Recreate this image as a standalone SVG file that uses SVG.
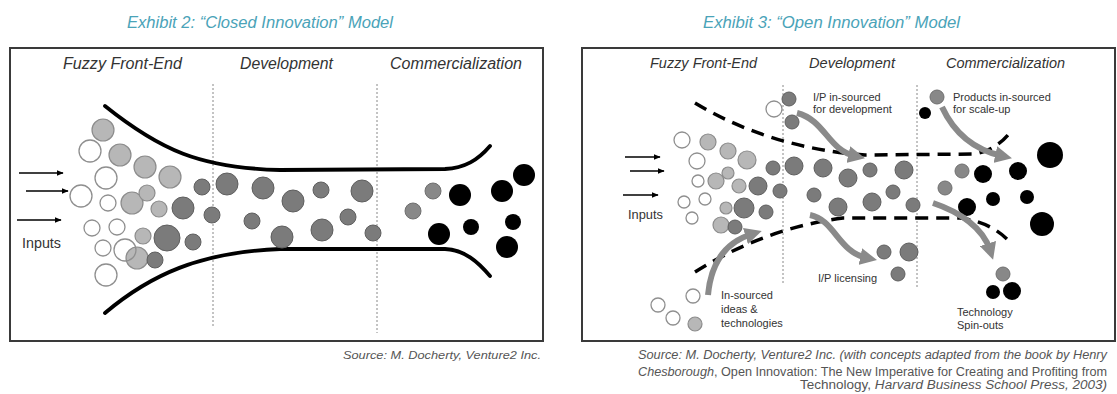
<svg xmlns="http://www.w3.org/2000/svg" width="1117" height="394" viewBox="0 0 1117 394">
<style>
.title{font-family:"Liberation Sans",Arial,sans-serif;font-style:italic;font-size:16px;fill:#4aa3b8}
.hdr{font-family:"Liberation Sans",Arial,sans-serif;font-style:italic;fill:#333}
.lbl{font-family:"Liberation Sans",Arial,sans-serif;font-size:11px;fill:#333}
.src{font-family:"Liberation Sans",Arial,sans-serif;font-size:12.5px;fill:#555}
.it{font-style:italic}
.box{fill:#fff;stroke:#3a3a3a;stroke-width:2}
.vdash{stroke:#888;stroke-width:1;stroke-dasharray:2 2;fill:none}
.wall{fill:none;stroke:#000;stroke-width:3.8;stroke-linecap:round}
.dwall{fill:none;stroke:#000;stroke-width:3.5;stroke-dasharray:13 8}
.open{fill:#fff;stroke:#8f8f8f;stroke-width:1.3}
.lg{fill:#b7b7b7;stroke:#8c8c8c;stroke-width:1.2}
.dg{fill:#7b7b7b;stroke:#5f5f5f;stroke-width:1}
.gr{fill:#888;stroke:#6f6f6f;stroke-width:1}
.bk{fill:#000}
.inarrow{stroke:#000;stroke-width:1.5;fill:none}
.garrow{stroke:#8a8a8a;stroke-width:6;fill:none}
</style>
<defs>
<marker id="ah" viewBox="0 0 10 10" refX="9" refY="5" markerWidth="7" markerHeight="7" markerUnits="userSpaceOnUse" orient="auto"><path d="M0,1 L10,5 L0,9 Z" fill="#000"/></marker>
<marker id="gh" viewBox="0 0 10 10" refX="4" refY="5" markerWidth="17" markerHeight="17" markerUnits="userSpaceOnUse" orient="auto"><path d="M0,0 L10,5 L0,10 Z" fill="#8a8a8a"/></marker>
</defs>
<rect width="1117" height="394" fill="#fff"/>

<g id="titles">
<text class="title" x="127" y="28" textLength="266" lengthAdjust="spacingAndGlyphs">Exhibit 2: “Closed Innovation” Model</text>
<text class="title" x="703" y="28" textLength="257" lengthAdjust="spacingAndGlyphs">Exhibit 3: “Open Innovation” Model</text>
</g>

<g id="closed-panel">
<rect class="box" x="10" y="48" width="533" height="293"/>
<text class="hdr" x="63" y="69" font-size="16" textLength="119" lengthAdjust="spacingAndGlyphs">Fuzzy Front-End</text>
<text class="hdr" x="240" y="69" font-size="16" textLength="93" lengthAdjust="spacingAndGlyphs">Development</text>
<text class="hdr" x="390" y="69" font-size="16" textLength="132" lengthAdjust="spacingAndGlyphs">Commercialization</text>
<line class="vdash" x1="213" y1="84" x2="213" y2="328"/>
<line class="vdash" x1="377" y1="84" x2="377" y2="333"/>
<path class="wall" d="M105,106 C160,150 200,168 280,170 L445,169 C465,168 478,160 490,146"/>
<path class="wall" d="M105,313 C150,275 200,252 280,249 L445,249 C465,250 478,262 490,276"/>
<text class="lbl" x="22" y="248" style="font-size:14px" textLength="39" lengthAdjust="spacingAndGlyphs">Inputs</text>
<g id="closed-ideas">
<circle class="open" cx="90" cy="151" r="11"/><circle class="open" cx="106" cy="178" r="11"/><circle class="open" cx="81" cy="196" r="11"/><circle class="open" cx="108" cy="203" r="8"/><circle class="open" cx="92" cy="228" r="8"/><circle class="open" cx="117" cy="227" r="8"/><circle class="open" cx="103" cy="248" r="8"/><circle class="open" cx="106" cy="275" r="11"/>
<circle class="lg" cx="103" cy="130" r="11"/><circle class="lg" cx="120" cy="155" r="11"/><circle class="lg" cx="145" cy="167" r="11"/><circle class="lg" cx="170" cy="177" r="11"/><circle class="lg" cx="132" cy="203" r="11"/><circle class="lg" cx="147" cy="193" r="8"/><circle class="lg" cx="159" cy="209" r="8"/><circle class="lg" cx="143" cy="236" r="8"/><circle class="lg" cx="137" cy="258" r="11"/>
<circle class="open" cx="125" cy="250" r="11" fill-opacity="0"/>
</g>
<g id="closed-dev">
<circle class="dg" cx="183" cy="208" r="11"/><circle class="dg" cx="202" cy="187" r="8"/><circle class="dg" cx="212" cy="215" r="8"/><circle class="dg" cx="227" cy="184" r="11"/><circle class="dg" cx="167" cy="238" r="13"/><circle class="dg" cx="193" cy="242" r="8"/><circle class="dg" cx="155" cy="260" r="8" fill="#6a6a6a"/>
<circle class="dg" cx="263" cy="188" r="11"/><circle class="dg" cx="252" cy="221" r="8"/><circle class="dg" cx="282" cy="237" r="11"/><circle class="dg" cx="293" cy="201" r="11"/><circle class="dg" cx="321" cy="190" r="8"/><circle class="dg" cx="362" cy="191" r="11"/><circle class="dg" cx="348" cy="217" r="8"/><circle class="dg" cx="322" cy="230" r="11"/><circle class="dg" cx="373" cy="233" r="8"/>
</g>
<g id="closed-products">
<circle class="gr" cx="433" cy="191" r="8"/><circle class="gr" cx="413" cy="211" r="8"/>
<circle class="bk" cx="460" cy="195" r="11"/><circle class="bk" cx="439" cy="234" r="11"/><circle class="bk" cx="471" cy="227" r="8"/><circle class="bk" cx="502" cy="191" r="11"/><circle class="bk" cx="524" cy="175" r="11"/><circle class="bk" cx="513" cy="222" r="8"/><circle class="bk" cx="507" cy="247" r="11"/>
</g>
</g>

<g id="open-panel">
<rect class="box" x="582" y="48" width="533" height="293"/>
<text class="hdr" x="650" y="68" font-size="14" textLength="107" lengthAdjust="spacingAndGlyphs">Fuzzy Front-End</text>
<text class="hdr" x="809" y="68" font-size="14" textLength="86" lengthAdjust="spacingAndGlyphs">Development</text>
<text class="hdr" x="946" y="68" font-size="14" textLength="119" lengthAdjust="spacingAndGlyphs">Commercialization</text>
<line class="vdash" x1="783" y1="85" x2="783" y2="283"/>
<line class="vdash" x1="917" y1="85" x2="917" y2="287"/>
<path class="dwall" d="M695,103 Q770,148 865,155 L975,154 Q995,150 1008,135"/>
<path class="dwall" d="M695,272 Q765,228 843,218 L960,218 Q990,222 1008,240"/>
<text class="lbl" x="628" y="219" style="font-size:12.5px" textLength="35" lengthAdjust="spacingAndGlyphs">Inputs</text>
<text class="lbl" x="721" y="299">In-sourced</text>
<text class="lbl" x="721" y="313">ideas &amp;</text>
<text class="lbl" x="721" y="327">technologies</text>
<text class="lbl" x="813" y="101">I/P in-sourced</text>
<text class="lbl" x="813" y="113">for development</text>
<text class="lbl" x="818" y="282">I/P licensing</text>
<text class="lbl" x="953" y="101">Products in-sourced</text>
<text class="lbl" x="953" y="113">for scale-up</text>
<text class="lbl" x="957" y="316">Technology</text>
<text class="lbl" x="957" y="329">Spin-outs</text>
<g id="open-ideas">
<circle class="open" cx="682" cy="140" r="8"/><circle class="open" cx="697" cy="161" r="8"/><circle class="open" cx="698" cy="181" r="6"/><circle class="open" cx="684" cy="202" r="6"/><circle class="open" cx="705" cy="199" r="6"/><circle class="open" cx="692" cy="218" r="6"/><circle class="open" cx="774" cy="109" r="8"/>
<circle class="lg" cx="708" cy="142" r="8"/><circle class="lg" cx="728" cy="151" r="8"/><circle class="lg" cx="747" cy="160" r="9"/><circle class="lg" cx="716" cy="181" r="8"/><circle class="lg" cx="728" cy="173" r="6"/><circle class="lg" cx="739" cy="186" r="7"/><circle class="lg" cx="726" cy="208" r="6"/><circle class="lg" cx="721" cy="225" r="8"/>
</g>
<g id="open-external-ideas">
<circle class="open" cx="693" cy="296" r="7"/><circle class="open" cx="658" cy="305" r="7"/><circle class="open" cx="673" cy="318" r="7"/><circle class="lg" cx="695" cy="324" r="7"/>
</g>
<g id="open-dev">
<circle class="dg" cx="758" cy="186" r="9"/><circle class="dg" cx="744" cy="208" r="10"/><circle class="dg" cx="766" cy="212" r="7"/><circle class="dg" cx="735" cy="227" r="7"/><circle class="dg" cx="773" cy="168" r="7"/><circle class="dg" cx="794" cy="166" r="9"/><circle class="dg" cx="823" cy="168" r="9"/><circle class="dg" cx="848" cy="178" r="9"/><circle class="dg" cx="870" cy="170" r="7"/><circle class="dg" cx="904" cy="170" r="9"/><circle class="dg" cx="780" cy="191" r="7"/><circle class="dg" cx="814" cy="195" r="7"/><circle class="dg" cx="838" cy="207" r="9"/><circle class="dg" cx="872" cy="202" r="9"/><circle class="dg" cx="893" cy="192" r="7"/><circle class="dg" cx="913" cy="205" r="7"/>
</g>
<g id="open-insourced-ip"><circle class="dg" cx="789" cy="99" r="7"/><circle class="dg" cx="792" cy="122" r="7"/></g>
<g id="open-licensing"><circle class="dg" cx="884" cy="252" r="7"/><circle class="dg" cx="909" cy="252" r="9"/><circle class="dg" cx="898" cy="274" r="7"/></g>
<g id="open-insourced-products"><circle class="gr" cx="937" cy="97" r="7"/><circle class="bk" cx="925" cy="113" r="6"/></g>
<g id="open-products">
<circle class="gr" cx="962" cy="171" r="7"/><circle class="gr" cx="945" cy="188" r="7"/>
<circle class="bk" cx="1050" cy="155" r="13"/><circle class="bk" cx="983" cy="174" r="9"/><circle class="bk" cx="1018" cy="171" r="9"/><circle class="bk" cx="967" cy="207" r="9"/><circle class="bk" cx="993" cy="199" r="7"/><circle class="bk" cx="1027" cy="197" r="7"/><circle class="bk" cx="1042" cy="224" r="12"/>
</g>
<g id="open-spinouts"><circle class="gr" cx="1003" cy="274" r="7"/><circle class="bk" cx="993" cy="292" r="7"/><circle class="bk" cx="1012" cy="291" r="9"/></g>
</g>

<g id="connectors">
<line class="inarrow" x1="19" y1="173" x2="63" y2="173" marker-end="url(#ah)"/>
<line class="inarrow" x1="26" y1="191" x2="68" y2="191" marker-end="url(#ah)"/>
<line class="inarrow" x1="17" y1="220" x2="61" y2="220" marker-end="url(#ah)"/>
<line class="inarrow" x1="625" y1="157" x2="660" y2="157" marker-end="url(#ah)"/>
<line class="inarrow" x1="630" y1="171" x2="664" y2="171" marker-end="url(#ah)"/>
<line class="inarrow" x1="623" y1="195" x2="658" y2="195" marker-end="url(#ah)"/>
<path class="garrow" d="M708,295 C711,262 726,242 752,234" marker-end="url(#gh)"/>
<path class="garrow" d="M797,113 C825,120 828,150 855,156" marker-end="url(#gh)"/>
<path class="garrow" d="M810,215 C835,220 838,252 867,258" marker-end="url(#gh)"/>
<path class="garrow" d="M942,107 C955,135 975,150 1002,156" marker-end="url(#gh)"/>
<path class="garrow" d="M933,203 C960,212 983,228 990,250" marker-end="url(#gh)"/>
</g>

<g id="sources">
<text class="src it" x="541" y="359" style="font-size:11px" textLength="198" lengthAdjust="spacingAndGlyphs" text-anchor="end">Source: M. Docherty, Venture2 Inc.</text>
<text class="src it" x="1107" y="359" text-anchor="end" textLength="469" lengthAdjust="spacingAndGlyphs">Source: M. Docherty, Venture2 Inc. (with concepts adapted from the book by Henry</text>
<text class="src" x="1107" y="376" text-anchor="end" textLength="469" lengthAdjust="spacingAndGlyphs"><tspan class="it">Chesborough</tspan>, Open Innovation: The New Imperative for Creating and Profiting from</text>
<text class="src" x="1107" y="389" text-anchor="end" textLength="307" lengthAdjust="spacingAndGlyphs">Technology, <tspan class="it">Harvard Business School Press, 2003)</tspan></text>
</g>
</svg>
